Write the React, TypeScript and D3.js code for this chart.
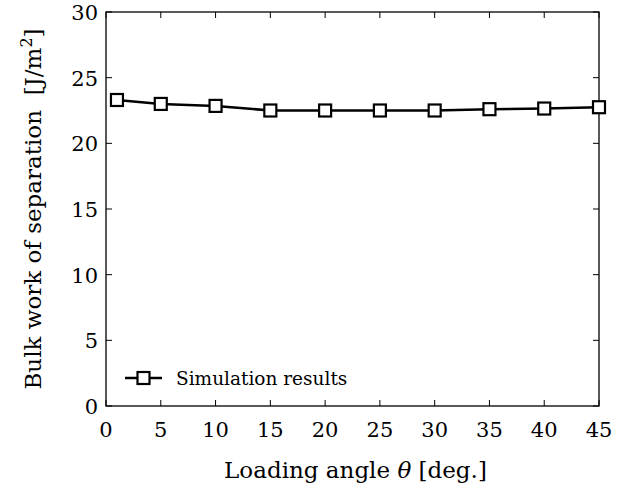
import React from "react";
import * as d3 from "d3";

const angles = [1, 5, 10, 15, 20, 25, 30, 35, 40, 45];
const work = [23.3, 23.0, 22.85, 22.5, 22.5, 22.5, 22.5, 22.6, 22.65, 22.75];
const xTicks = [0, 5, 10, 15, 20, 25, 30, 35, 40, 45];
const yTicks = [0, 5, 10, 15, 20, 25, 30];

export default function App() {
  const width = 619;
  const height = 488;
  const margin = { top: 12, right: 20, bottom: 82, left: 106 };
  const font = "'DejaVu Serif', 'Liberation Serif', serif";

  const x = d3.scaleLinear().domain([0, 45]).range([margin.left, width - margin.right]);
  const y = d3.scaleLinear().domain([0, 30]).range([height - margin.bottom, margin.top]);

  const line = d3
    .line<number>()
    .x((d, i) => x(angles[i]))
    .y((d) => y(d));

  const tick = 6;
  const left = x(0);
  const right = x(45);
  const top = y(30);
  const bottom = y(0);

  return (
    <svg
      width={width}
      height={height}
      style={{ position: "absolute", left: 0, top: 0, background: "white" }}
      fontFamily={font}
    >
      {/* ticks, mirrored on all sides */}
      {xTicks.map((t) => (
        <g key={"x" + t}>
          <line x1={x(t)} x2={x(t)} y1={bottom} y2={bottom - tick} stroke="black" strokeWidth={1} />
          <line x1={x(t)} x2={x(t)} y1={top} y2={top + tick} stroke="black" strokeWidth={1} />
          <text x={x(t)} y={bottom + 31} textAnchor="middle" fontSize={21}>
            {t}
          </text>
        </g>
      ))}
      {yTicks.map((t) => (
        <g key={"y" + t}>
          <line x1={left} x2={left + tick} y1={y(t)} y2={y(t)} stroke="black" strokeWidth={1} />
          <line x1={right} x2={right - tick} y1={y(t)} y2={y(t)} stroke="black" strokeWidth={1} />
          <text x={left - 8} y={y(t) + 8} textAnchor="end" fontSize={21}>
            {t}
          </text>
        </g>
      ))}
      <rect
        x={left}
        y={top}
        width={right - left}
        height={bottom - top}
        fill="none"
        stroke="black"
        strokeWidth={1.3}
      />

      {/* series */}
      <path d={line(work) || ""} fill="none" stroke="black" strokeWidth={2.5} />
      {work.map((v, i) => (
        <rect
          key={i}
          x={x(angles[i]) - 6}
          y={y(v) - 6}
          width={12}
          height={12}
          fill="white"
          stroke="black"
          strokeWidth={2.2}
        />
      ))}

      {/* legend */}
      <g transform={`translate(${left + 19}, ${bottom - 28})`}>
        <line x1={0} x2={37} y1={0} y2={0} stroke="black" strokeWidth={2.5} />
        <rect x={12.5} y={-6} width={12} height={12} fill="white" stroke="black" strokeWidth={2.2} />
        <text x={51} y={7} fontSize={18.5}>
          Simulation results
        </text>
      </g>

      {/* axis labels */}
      <text x={(left + right) / 2 + 3} y={478} textAnchor="middle" fontSize={23}>
        Loading angle <tspan fontStyle="italic">θ</tspan> [deg.]
      </text>
      <text
        transform={`translate(41, ${(top + bottom) / 2}) rotate(-90)`}
        textAnchor="middle"
        fontSize={23}
      >
        Bulk work of separation{"\u00a0\u00a0"}[J/m<tspan dy={-9} fontSize={16}>2</tspan>
        <tspan dy={9}>]</tspan>
      </text>
    </svg>
  );
}
